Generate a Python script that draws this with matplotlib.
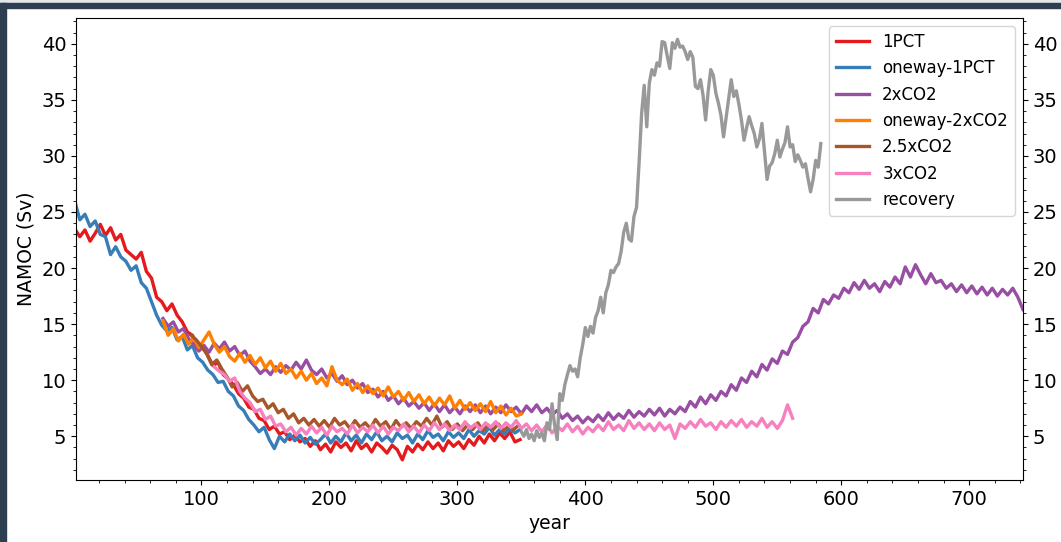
import matplotlib
matplotlib.use("Agg")
import matplotlib.pyplot as plt
import numpy as np
from matplotlib.patches import Rectangle
from matplotlib.ticker import MultipleLocator

# yearly-ish samples (every 4 years; recovery every 2 years)
START_1PCT = 1
NAMOC_1PCT = [
    23.5, 22.8, 23.4, 22.4, 23.1, 23.9, 22.9, 23.6, 22.5, 23.0,
    21.6, 21.2, 20.8, 21.4, 19.7, 19.1, 17.4, 17.0, 16.2, 16.8,
    15.8, 15.2, 14.3, 14.0, 13.1, 12.9, 12.2, 11.3, 11.6, 10.5,
    10.1, 9.6, 8.8, 8.4, 7.6, 7.4, 6.6, 6.4, 5.6, 5.9,
    5.2, 5.4, 4.7, 5.1, 4.5, 4.8, 4.1, 4.6, 3.8, 4.3,
    3.6, 4.5, 4.0, 4.4, 3.7, 4.6, 3.9, 4.3, 3.6, 4.4,
    4.0, 3.5, 4.2, 3.8, 2.9, 4.1, 3.6, 4.3, 3.8, 4.5,
    3.9, 4.4, 3.7, 4.6, 4.1, 4.5, 3.9, 4.7, 4.2, 5.0,
    4.4, 5.2, 4.6, 5.3, 4.8, 5.4, 4.5, 4.7,
]

START_OW1PCT = 1
NAMOC_OW1PCT = [
    26.0, 24.3, 24.8, 23.7, 24.2, 23.0, 22.8, 21.2, 21.9, 21.0,
    20.6, 19.8, 20.2, 18.7, 18.2, 17.0, 15.8, 14.9, 14.4, 14.7,
    13.6, 13.9, 12.7, 13.1, 12.0, 11.6, 10.9, 10.5, 9.8, 9.9,
    9.0, 8.6, 7.7, 7.3, 6.5, 6.0, 5.4, 5.8, 4.7, 3.9,
    5.0, 4.5, 5.2, 4.6, 5.1, 4.4, 4.9, 4.3, 4.7, 5.2,
    4.4, 5.0, 4.5, 5.3, 4.6, 5.1, 4.4, 5.2, 4.7, 5.4,
    4.6, 5.0, 4.5, 5.3, 4.8, 5.1, 4.4, 5.2, 4.7, 5.5,
    4.9, 5.2, 4.6, 5.4, 4.9, 5.3, 4.8, 5.6, 5.0, 5.5,
    5.2, 5.8, 5.1, 5.6, 5.2, 5.7, 5.3, 5.6,
]

START_2XCO2 = 70
NAMOC_2XCO2 = [
    15.5, 14.8, 15.2, 14.3, 14.6, 13.7, 13.2, 12.6, 13.1, 12.5,
    13.3, 12.8, 13.4, 12.6, 13.0, 12.2, 12.6, 11.7, 11.2, 10.6,
    11.0, 10.5, 11.2, 10.7, 11.3, 10.9, 11.6, 11.0, 11.8, 10.9,
    10.5, 11.0, 10.2, 10.6, 9.9, 10.4, 9.6, 10.0, 9.3, 9.7,
    8.9, 9.2, 8.5, 9.0, 8.2, 8.6, 7.9, 8.4, 7.7, 8.1,
    7.5, 8.0, 7.3, 7.9, 7.2, 7.8, 7.1, 7.6, 7.0, 7.7,
    7.2, 7.8, 7.1, 7.7, 7.0, 7.6, 7.1, 7.8, 7.2, 7.6,
    7.0, 7.7, 7.2, 7.8, 7.1, 7.5, 6.9, 7.3, 6.6, 7.0,
    6.4, 6.8, 6.2, 6.7, 6.3, 6.9, 6.4, 7.1, 6.5, 7.0,
    6.6, 7.3, 6.7, 7.2, 6.8, 7.4, 6.9, 7.5, 6.8, 7.4,
    7.0, 7.6, 7.2, 8.1, 7.6, 8.5, 7.9, 8.7, 8.2, 9.0,
    8.6, 9.6, 9.1, 10.2, 9.8, 10.8, 10.3, 11.4, 10.9, 11.9,
    11.5, 12.6, 12.3, 13.4, 13.8, 14.8, 15.2, 16.4, 16.0, 17.2,
    16.8, 17.6, 17.3, 18.2, 17.8, 18.7, 18.1, 18.9, 18.2, 18.6,
    17.9, 18.8, 18.3, 19.2, 18.6, 20.1, 19.2, 20.3, 19.4, 18.6,
    19.5, 18.7, 18.9, 18.2, 18.6, 17.9, 18.5, 17.8, 18.4, 17.7,
    18.3, 17.6, 18.2, 17.5, 18.1, 17.6, 18.2, 17.4, 16.3,
]

START_OW2XCO2 = 70
NAMOC_OW2XCO2 = [
    15.3, 14.0, 14.6, 13.5, 14.1, 13.2, 13.8, 12.9, 13.6, 14.3,
    13.2, 12.5, 13.0, 12.1, 11.7, 12.4, 11.6, 12.2, 11.4, 12.0,
    11.1, 11.7, 10.8, 11.5, 10.6, 11.0, 10.2, 10.8, 10.0, 10.6,
    9.7, 10.2, 9.5, 11.2, 10.0, 9.6, 10.1, 9.1, 9.7, 8.9,
    9.5, 8.8, 9.3, 8.6, 9.4, 8.5, 9.0, 8.2, 8.9, 8.1,
    8.7, 7.9, 8.5, 7.7, 8.4, 7.8, 8.6, 7.5, 8.2, 7.4,
    8.0, 7.3, 7.9, 7.2, 8.1, 7.1, 7.7, 6.9, 7.5, 6.8,
    7.0,
]

START_25XCO2 = 92
NAMOC_25XCO2 = [
    14.0, 13.6, 13.0, 12.4, 11.4, 11.8, 11.0, 10.3, 9.4, 9.8,
    9.0, 9.5, 8.6, 8.1, 8.3, 7.5, 7.9, 7.1, 7.4, 6.6,
    7.0, 6.2, 6.6, 6.0, 6.5, 5.9, 6.4, 5.8, 6.6, 6.0,
    6.3, 5.7, 6.4, 5.8, 6.2, 5.7, 6.5, 5.9, 6.3, 5.6,
    6.4, 5.8, 6.2, 5.7, 6.3, 5.9, 6.6, 6.0, 6.8, 5.8,
    6.3, 5.6, 6.1, 5.5, 6.0, 5.6, 6.2, 5.5, 6.0, 5.6,
    6.1, 5.5, 5.9, 5.6, 6.0,
]

START_3XCO2 = 110
NAMOC_3XCO2 = [
    11.2, 10.8, 10.5, 9.9, 10.2, 9.0, 8.4, 8.0, 7.2, 7.4,
    6.5, 6.8, 5.9, 6.1, 5.4, 5.8, 5.1, 5.7, 5.2, 5.9,
    5.3, 5.8, 5.1, 5.9, 5.4, 5.7, 5.2, 6.0, 5.3, 5.8,
    5.4, 6.0, 5.3, 5.9, 5.2, 5.8, 5.5, 6.1, 5.4, 5.9,
    5.3, 6.0, 5.5, 6.2, 5.6, 6.1, 5.5, 6.0, 5.6, 6.3,
    5.7, 6.1, 5.6, 6.2, 5.8, 6.3, 5.7, 6.2, 5.8, 6.4,
    5.7, 6.1, 5.5, 6.0, 5.4, 6.0, 5.3, 5.9, 5.5, 6.1,
    5.4, 5.9, 5.2, 5.8, 5.4, 6.0, 5.5, 6.3, 5.6, 6.0,
    5.5, 6.4, 5.7, 6.2, 5.6, 6.1, 5.5, 6.2, 5.6, 6.0,
    4.8, 6.1, 5.7, 6.3, 5.8, 6.5, 5.9, 6.2, 5.6, 6.3,
    5.8, 6.4, 5.9, 6.5, 5.8, 6.3, 5.9, 6.6, 5.8, 6.3,
    5.7, 6.4, 7.8, 6.6,
]

START_RECOVERY = 350
NAMOC_RECOVERY = [
    5.4, 5.0, 5.6, 4.8, 5.2, 4.6, 5.5, 4.9, 5.3, 4.6,
    6.2, 5.6, 7.9, 6.0, 4.7, 8.8, 8.2, 9.6, 10.5, 11.3,
    10.8, 11.0, 10.3, 12.0, 13.2, 14.7, 13.9, 14.8, 14.2, 15.6,
    16.2, 17.4, 16.0, 17.8, 18.5, 19.8, 19.6, 20.1, 20.4, 21.5,
    23.2, 24.0, 22.6, 22.4, 24.6, 25.4, 29.4, 33.8, 36.3, 32.6,
    36.5, 37.7, 37.2, 38.3, 38.0, 40.2, 40.1, 38.9, 37.8, 40.1,
    39.6, 40.4, 39.7, 39.8, 39.3, 38.6, 39.3, 38.8, 36.2, 36.0,
    36.8, 35.4, 33.2, 35.8, 37.7, 37.2, 35.6, 34.7, 33.6, 31.7,
    33.4, 35.1, 36.8, 35.3, 35.8, 34.6, 33.2, 31.4, 32.5, 33.5,
    32.7, 32.0, 30.8, 31.5, 32.9, 30.4, 27.9, 29.1, 29.4, 30.2,
    31.4, 29.9, 30.6, 31.2, 32.6, 30.8, 31.0, 29.5, 30.1, 29.6,
    29.0, 29.3, 28.0, 26.8, 27.9, 29.6, 29.0, 31.1,
]

SERIES = [
    ("1PCT", START_1PCT, 4, NAMOC_1PCT, "#e41a1c"),
    ("oneway-1PCT", START_OW1PCT, 4, NAMOC_OW1PCT, "#377eb8"),
    ("2xCO2", START_2XCO2, 4, NAMOC_2XCO2, "#984ea3"),
    ("oneway-2xCO2", START_OW2XCO2, 4, NAMOC_OW2XCO2, "#ff7f00"),
    ("2.5xCO2", START_25XCO2, 4, NAMOC_25XCO2, "#a65628"),
    ("3xCO2", START_3XCO2, 4, NAMOC_3XCO2, "#f781bf"),
    ("recovery", START_RECOVERY, 2, NAMOC_RECOVERY, "#999999"),
]

W, H = 1061, 542
fig = plt.figure(figsize=(W / 100, H / 100), dpi=100)
ax = fig.add_axes([76 / W, 1 - 480 / H, (1023 - 76) / W, (480 - 18) / H])

for name, start, step, vals, color in SERIES:
    years = start + step * np.arange(len(vals))
    ax.plot(years, vals, color=color, lw=2.4, label=name)

ax.set_xlim(2, 742)
ax.set_ylim(1.1, 42.3)
ax.xaxis.set_major_locator(MultipleLocator(100))
ax.xaxis.set_minor_locator(MultipleLocator(20))
ax.yaxis.set_major_locator(MultipleLocator(5))
ax.yaxis.set_minor_locator(MultipleLocator(1))
ax.tick_params(which="both", right=True, labelright=True, labelsize=14)
ax.set_xlabel("year", fontsize=13.5)
ax.set_ylabel("NAMOC (Sv)", fontsize=13.5)
ax.legend(loc="upper right", fontsize=12, borderaxespad=0.5)

# screenshot frame on the top and left edges
fig.patches.append(Rectangle((0, 1 - 3 / H), 1, 3 / H, transform=fig.transFigure,
                             color="#e4e7ea", zorder=10))
fig.patches.append(Rectangle((0, 1 - 8 / H), 1, 5 / H, transform=fig.transFigure,
                             color="#2c3e4f", zorder=10))
fig.patches.append(Rectangle((0, 0), 6 / W, 1 - 3 / H, transform=fig.transFigure,
                             color="#2c3e4f", zorder=10))

fig.savefig("out.png", dpi=100)
